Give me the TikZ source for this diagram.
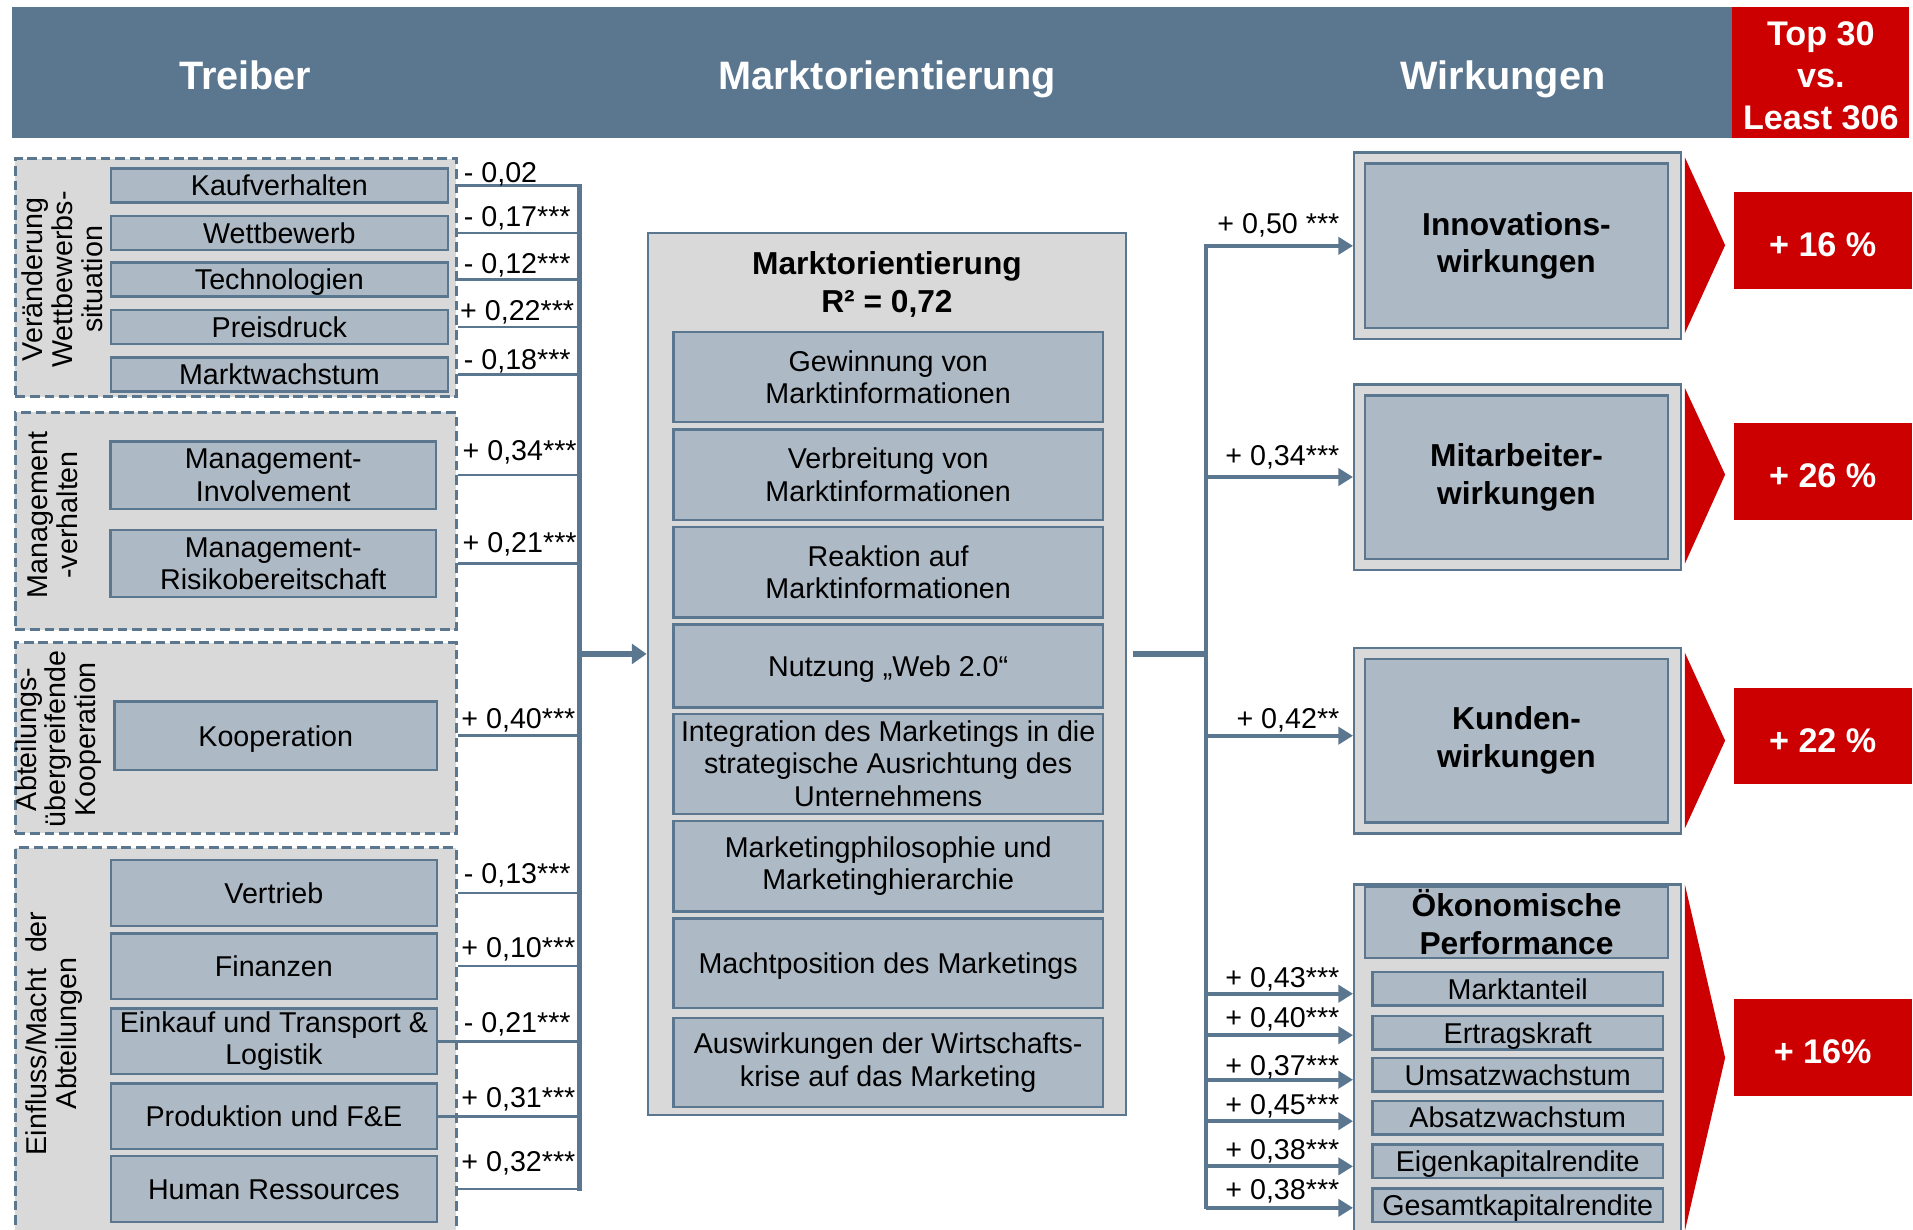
\documentclass[tikz,border=0pt]{standalone}
\usepackage{fontspec}
\setmainfont{Liberation Sans}
\usetikzlibrary{arrows.meta}
\definecolor{slate}{HTML}{5B7790}
\definecolor{boxfill}{HTML}{ADB9C4}
\definecolor{panel}{HTML}{D9D9D9}
\definecolor{topred}{HTML}{CC0000}
\newcommand{\itemfont}{\fontsize{23.5}{26.5}\selectfont}
\newcommand{\grpfont}{\fontsize{23.5}{24.5}\selectfont}
\newcommand{\titlefont}{\bfseries\fontsize{26}{31}\selectfont}
\newcommand{\hdrfont}{\bfseries\fontsize{32.5}{38}\selectfont}
\newcommand{\topfont}{\bfseries\fontsize{28}{34.5}\selectfont}
\newcommand{\redfont}{\bfseries\fontsize{28}{33}\selectfont}
\begin{document}
\begin{tikzpicture}[x=1pt, y=-1pt, every node/.style = {inner sep=0pt},
  item/.style = {draw=slate, line width=2pt, fill=boxfill, align=center, font=\itemfont},
  single/.style = {text height=17pt, text depth=0pt},
  group/.style = {draw=slate, line width=2.5pt, dash pattern=on 8pt off 4pt, fill=panel},
  panelbox/.style = {draw=slate, line width=2pt, fill=panel},
  effect/.style = {draw=slate, line width=2pt, fill=boxfill, align=center, font=\titlefont},
  coef/.style = {font=\itemfont, single},
  grouplbl/.style = {rotate=90, align=center, font=\grpfont},
  hdrtxt/.style = {text=white, font=\hdrfont, text height=23.5pt, text depth=0pt},
  redbox/.style = {fill=topred, text=white, font=\redfont, text height=26pt, text depth=0pt},
  conn/.style = {draw=slate, line width=2pt},
  bus/.style = {draw=slate, line width=3.5pt},
  mainline/.style = {draw=slate, line width=5pt},
  arr/.style = {draw=slate, line width=3.5pt, -{Triangle[length=12pt,width=14pt]}}]
\useasboundingbox (0,0) rectangle (1568,1008);

% header
\node[fill=slate, minimum width=1410pt, minimum height=107pt] (bar) at (715,59.5) {};
\node[fill=topred, minimum width=145pt, minimum height=107pt] (topleast) at (1492.5,59.5) {};
\node[text=white, font=\topfont, align=center] (toptxt) at (1492.5,62) {Top 30\\vs.\\Least 306};
\node[hdrtxt] (h1) at (201,62) {Treiber};
\node[hdrtxt] (h2) at (727,62) {Marktorientierung};
\node[hdrtxt] (h3) at (1232,62) {Wirkungen};

% treiber
\node[group, minimum width=361.5pt, minimum height=195pt] (wettb) at (193.25,227.5) {};
\node[group, minimum width=361.5pt, minimum height=178pt] (mgmt) at (193.25,427) {};
\node[group, minimum width=361.5pt, minimum height=156pt] (koop) at (193.25,605) {};
\node[group, minimum width=361.5pt, minimum height=320pt] (macht) at (193.25,855) {};
\node[grouplbl] (g1) at (51,229) {Veränderung\\Wettbewerbs-\\situation};
\node[grouplbl] (g2) at (43,422) {Management\\-verhalten};
\node[grouplbl] (g3) at (48,606) {Abteilungs-\\übergreifende\\Kooperation};
\node[grouplbl] (g4) at (44.5,847) {Einfluss/Macht~~der\\Abteilungen};

\node[item, single, minimum width=276pt, minimum height=28pt] (kauf) at (229,152) {Kaufverhalten};
\node[item, single, minimum width=276pt, minimum height=28pt] (wett) at (229,191) {Wettbewerb};
\node[item, single, minimum width=276pt, minimum height=28pt] (tech) at (229,229) {Technologien};
\node[item, single, minimum width=276pt, minimum height=28pt] (preis) at (229,268) {Preisdruck};
\node[item, single, minimum width=276pt, minimum height=28pt] (mwachs) at (229,307) {Marktwachstum};
\node[item, minimum width=267pt, minimum height=55pt] (invol) at (224,389.5) {Management-\\Involvement};
\node[item, minimum width=267pt, minimum height=55pt] (risiko) at (224,462) {Management-\\Risikobereitschaft};
\node[item, single, minimum width=264pt, minimum height=56pt] (koopi) at (226,603) {Kooperation};
\node[item, single, minimum width=267pt, minimum height=54pt] (vertr) at (224.5,732) {Vertrieb};
\node[item, single, minimum width=267pt, minimum height=54pt] (finanz) at (224.5,792) {Finanzen};
\node[item, minimum width=267pt, minimum height=54pt] (einkauf) at (224.5,853.5) {Einkauf und Transport \&\\Logistik};
\node[item, single, minimum width=267pt, minimum height=54pt] (prod) at (224.5,915) {Produktion und F\&E};
\node[item, single, minimum width=267pt, minimum height=54pt] (human) at (224.5,974.5) {Human Ressources};

\coordinate (lbtop) at (475,151);
\coordinate (lbbot) at (475,976);
\coordinate (lmid) at (475,536);
\draw[bus] (lbtop) -- (lbbot);
\draw[conn] (kauf.east -| wettb.east) -- (kauf.east -| lbtop);
\draw[conn] (wett.east -| wettb.east) -- (wett.east -| lbtop);
\draw[conn] (tech.east -| wettb.east) -- (tech.east -| lbtop);
\draw[conn] (preis.east -| wettb.east) -- (preis.east -| lbtop);
\draw[conn] (mwachs.east -| wettb.east) -- (mwachs.east -| lbtop);
\draw[conn] (invol.east -| mgmt.east) -- (invol.east -| lbtop);
\draw[conn] (risiko.east -| mgmt.east) -- (risiko.east -| lbtop);
\draw[conn] (koopi.east -| koop.east) -- (koopi.east -| lbtop);
\draw[conn] (vertr.east -| macht.east) -- (vertr.east -| lbtop);
\draw[conn] (finanz.east -| macht.east) -- (finanz.east -| lbtop);
\draw[conn] (einkauf.east) -- (einkauf.east -| lbtop);
\draw[conn] (prod.east) -- (prod.east -| lbtop);
\draw[conn] (human.east -| macht.east) -- (human.east -| lbtop);

\node[coef, anchor=west] (c1) at (380,141) {- 0,02};
\node[coef, anchor=west] (c2) at (380,177) {- 0,17***};
\node[coef, anchor=west] (c3) at (380,216) {- 0,12***};
\node[coef, anchor=west] (c4) at (377,254) {+ 0,22***};
\node[coef, anchor=west] (c5) at (380,294) {- 0,18***};
\node[coef, anchor=west] (c6) at (379,369) {+ 0,34***};
\node[coef, anchor=west] (c7) at (379,444) {+ 0,21***};
\node[coef, anchor=west] (c8) at (378,589) {+ 0,40***};
\node[coef, anchor=west] (c9) at (380,716) {- 0,13***};
\node[coef, anchor=west] (c10) at (378,776) {+ 0,10***};
\node[coef, anchor=west] (c11) at (380,837.5) {- 0,21***};
\node[coef, anchor=west] (c12) at (378,899) {+ 0,31***};
\node[coef, anchor=west] (c13) at (378,952) {+ 0,32***};

% marktorientierung
\node[panelbox, minimum width=392pt, minimum height=723pt] (centre) at (727,552.5) {};
\node[font=\titlefont, align=center] (ctitle) at (727,233) {Marktorientierung\\R² = 0,72};
\node[item, minimum width=352pt, minimum height=74pt] (gew) at (728,309) {Gewinnung von\\Marktinformationen};
\node[item, minimum width=352pt, minimum height=74pt] (verb) at (728,389) {Verbreitung von\\Marktinformationen};
\node[item, minimum width=352pt, minimum height=74pt] (reak) at (728,469) {Reaktion auf\\Marktinformationen};
\node[item, single, minimum width=352pt, minimum height=68pt] (web) at (728,546) {Nutzung „Web 2.0“};
\node[item, minimum width=352pt, minimum height=82pt] (integ) at (728,626) {Integration des Marketings in die\\strategische Ausrichtung des\\Unternehmens};
\node[item, minimum width=352pt, minimum height=74pt] (philo) at (728,710) {Marketingphilosophie und\\Marketinghierarchie};
\node[item, single, minimum width=352pt, minimum height=73pt] (machtpos) at (728,789.5) {Machtposition des Marketings};
\node[item, minimum width=352pt, minimum height=73pt] (krise) at (728,871) {Auswirkungen der Wirtschafts-\\krise auf das Marketing};

\draw[draw=slate, line width=5pt, -{Triangle[length=12pt,width=16pt]}] (lmid) -- (lmid -| centre.west);

% wirkungen
\coordinate (rbtop) at (988.5,200);
\coordinate (rbbot) at (988.5,991);
\coordinate (rmid) at (988.5,536);
\draw[mainline, shorten <=5pt] (rmid -| centre.east) -- (rmid);
\draw[bus] (rbtop) -- (rbbot);

\node[panelbox, minimum width=268pt, minimum height=153pt] (innov) at (1244,201.5) {};
\node[effect, minimum width=248pt, minimum height=135pt] (innovi) at (1243,201.5) {Innovations-\\wirkungen};
\node[panelbox, minimum width=268pt, minimum height=152pt] (mitarb) at (1244,391) {};
\node[effect, minimum width=248pt, minimum height=134pt] (mitarbi) at (1243,391) {Mitarbeiter-\\wirkungen};
\node[panelbox, minimum width=268pt, minimum height=152pt] (kunden) at (1244,607) {};
\node[effect, minimum width=248pt, minimum height=134pt] (kundeni) at (1243,607) {Kunden-\\wirkungen};
\node[panelbox, minimum width=268pt, minimum height=290pt] (oek) at (1244,870) {};
\node[effect, minimum width=248pt, minimum height=58pt] (oeki) at (1243,756) {Ökonomische\\Performance};
\node[item, single, minimum width=238pt, minimum height=27.5pt] (manteil) at (1244,810.5) {Marktanteil};
\node[item, single, minimum width=238pt, minimum height=27.5pt] (ertrag) at (1244,846.5) {Ertragskraft};
\node[item, single, minimum width=238pt, minimum height=27.5pt] (umsatz) at (1244,881) {Umsatzwachstum};
\node[item, single, minimum width=238pt, minimum height=27.5pt] (absatz) at (1244,916) {Absatzwachstum};
\node[item, single, minimum width=238pt, minimum height=27.5pt] (ekr) at (1244,952) {Eigenkapitalrendite};
\node[item, single, minimum width=238pt, minimum height=27.5pt] (gkr) at (1244,988) {Gesamtkapitalrendite};

\draw[arr] (innov.west -| rbtop) -- (innov.west);
\draw[arr] (mitarb.west -| rbtop) -- (mitarb.west);
\draw[arr] ([yshift=4pt]kunden.west -| rbtop) -- ([yshift=4pt]kunden.west);
\draw[arr] ([yshift=-4pt]manteil.west -| rbtop) -- ([yshift=-4pt]manteil.west -| oek.west);
\draw[arr] ([yshift=-2pt]ertrag.west -| rbtop) -- ([yshift=-2pt]ertrag.west -| oek.west);
\draw[arr] ([yshift=-4pt]umsatz.west -| rbtop) -- ([yshift=-4pt]umsatz.west -| oek.west);
\draw[arr] ([yshift=-3pt]absatz.west -| rbtop) -- ([yshift=-3pt]absatz.west -| oek.west);
\draw[arr] ([yshift=-4pt]ekr.west -| rbtop) -- ([yshift=-4pt]ekr.west -| oek.west);
\draw[arr] ([yshift=-2pt]gkr.west -| rbtop) -- ([yshift=-2pt]gkr.west -| oek.west);

\node[coef, anchor=east] (r1) at (1098,183) {+ 0,50 ***};
\node[coef, anchor=east] (r2) at (1098,373) {+ 0,34***};
\node[coef, anchor=east] (r3) at (1098,589) {+ 0,42**};
\node[coef, anchor=east] (r4) at (1098,801) {+ 0,43***};
\node[coef, anchor=east] (r5) at (1098,834) {+ 0,40***};
\node[coef, anchor=east] (r6) at (1098,873) {+ 0,37***};
\node[coef, anchor=east] (r7) at (1098,905) {+ 0,45***};
\node[coef, anchor=east] (r8) at (1098,942) {+ 0,38***};
\node[coef, anchor=east] (r9) at (1098,975) {+ 0,38***};

% top 30 vs. least 306
\fill[topred] (1381,129) -- (1414,201) -- (1381,273) -- cycle;
\fill[topred] (1381,318) -- (1414,389) -- (1381,462) -- cycle;
\fill[topred] (1381,535) -- (1414,607) -- (1381,679) -- cycle;
\fill[topred] (1381,725) -- (1414,867) -- (1381,1009) -- cycle;
\node[redbox, minimum width=146pt, minimum height=80pt] (p1) at (1494,197) {+ 16 \%};
\node[redbox, minimum width=146pt, minimum height=79pt] (p2) at (1494,386.5) {+ 26 \%};
\node[redbox, minimum width=146pt, minimum height=79pt] (p3) at (1494,603.5) {+ 22 \%};
\node[redbox, minimum width=146pt, minimum height=79pt] (p4) at (1494,858.5) {+ 16\%};
\end{tikzpicture}
\end{document}
